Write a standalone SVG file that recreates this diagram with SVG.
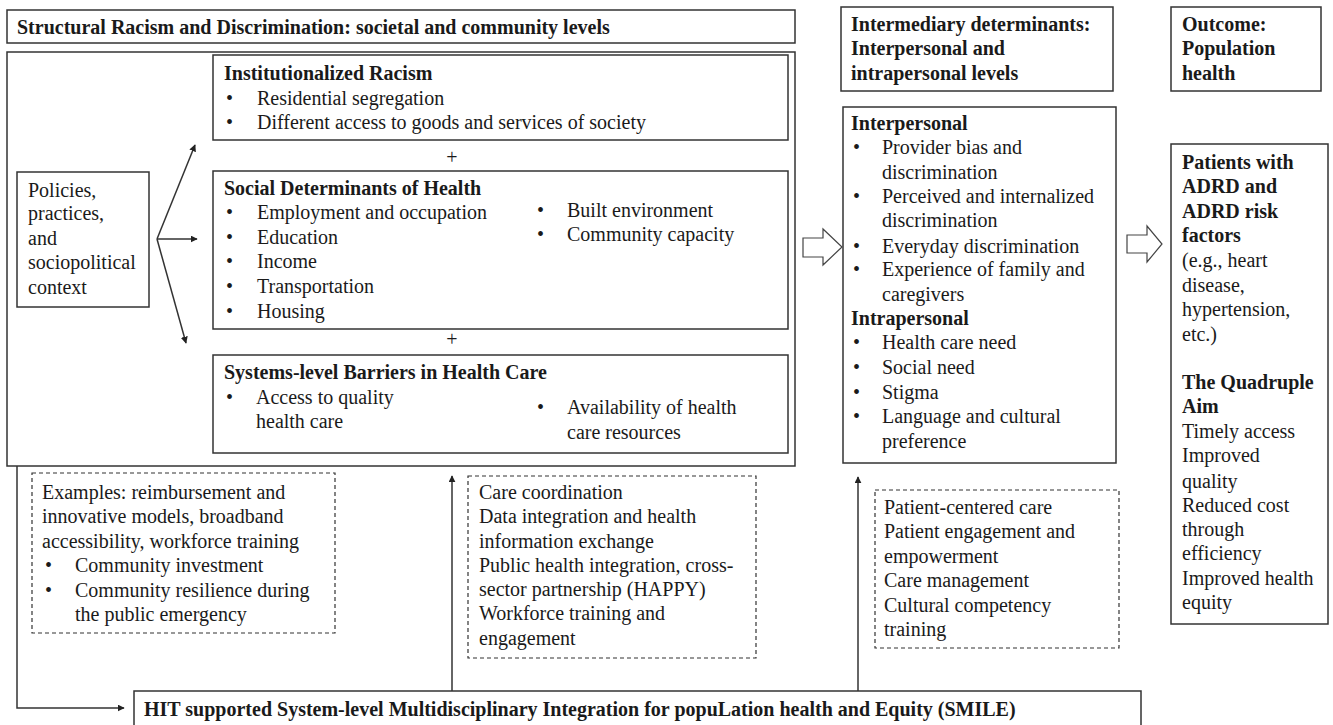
<svg xmlns="http://www.w3.org/2000/svg" width="1333" height="725" viewBox="0 0 1333 725">
<defs>
<style>
text{font-family:"Liberation Serif","Times New Roman",serif;font-size:20px;fill:#1a1a1a}
.b{font-weight:bold}
.box{fill:#fff;stroke:#333;stroke-width:1.5}
.dash{fill:#fff;stroke:#333;stroke-width:1.2;stroke-dasharray:4 3}
.ln{fill:none;stroke:#333;stroke-width:1.5}
.hollow{fill:#fff;stroke:#444;stroke-width:1.2}
</style>
<marker id="ah" viewBox="0 0 10 10" refX="9" refY="5" markerWidth="7" markerHeight="7" markerUnits="userSpaceOnUse" orient="auto">
<path d="M0,0 L10,5 L0,10 z" fill="#222"/>
</marker>
</defs>
<rect width="1333" height="725" fill="#fff"/>

<g id="title">
<rect class="box" x="7" y="10" width="788" height="33"/>
<text class="b" x="17" y="34">Structural Racism and Discrimination: societal and community levels</text>
</g>

<g id="outer">
<rect class="box" x="7" y="52" width="788" height="414"/>
</g>

<g id="institutional">
<rect class="box" x="213" y="55" width="575" height="85"/>
<text class="b" x="224" y="80">Institutionalized Racism</text>
<text x="226" y="105">•</text><text x="257" y="105">Residential segregation</text>
<text x="226" y="129">•</text><text x="257" y="129">Different access to goods and services of society</text>
</g>
<text x="452" y="164" text-anchor="middle">+</text>

<g id="sdh">
<rect class="box" x="213" y="171" width="575" height="158"/>
<text class="b" x="224" y="195">Social Determinants of Health</text>
<text x="226" y="219">•</text><text x="257" y="219">Employment and occupation</text>
<text x="226" y="244">•</text><text x="257" y="244">Education</text>
<text x="226" y="268">•</text><text x="257" y="268">Income</text>
<text x="226" y="293">•</text><text x="257" y="293">Transportation</text>
<text x="226" y="318">•</text><text x="257" y="318">Housing</text>
<text x="537" y="217">•</text><text x="567" y="217">Built environment</text>
<text x="537" y="241">•</text><text x="567" y="241">Community capacity</text>
</g>
<text x="452" y="346" text-anchor="middle">+</text>

<g id="systems">
<rect class="box" x="213" y="355" width="575" height="98"/>
<text class="b" x="224" y="379">Systems-level Barriers in Health Care</text>
<text x="226" y="404">•</text><text x="256" y="404">Access to quality</text>
<text x="256" y="428">health care</text>
<text x="537" y="414">•</text><text x="567" y="414">Availability of health</text>
<text x="567" y="439">care resources</text>
</g>

<g id="policies">
<rect class="box" x="17" y="172" width="132" height="135"/>
<text x="28" y="197">Policies,</text>
<text x="28" y="220">practices,</text>
<text x="28" y="245">and</text>
<text x="28" y="269">sociopolitical</text>
<text x="28" y="294">context</text>
</g>

<g id="examples">
<rect class="dash" x="32" y="473" width="303" height="160"/>
<text x="42" y="499">Examples: reimbursement and</text>
<text x="42" y="523">innovative models, broadband</text>
<text x="42" y="548">accessibility, workforce training</text>
<text x="45" y="572">•</text><text x="75" y="572">Community investment</text>
<text x="45" y="597">•</text><text x="75" y="597">Community resilience during</text>
<text x="75" y="621">the public emergency</text>
</g>

<g id="care">
<rect class="dash" x="468" y="476" width="288" height="182"/>
<text x="479" y="499">Care coordination</text>
<text x="479" y="523">Data integration and health</text>
<text x="479" y="548">information exchange</text>
<text x="479" y="572">Public health integration, cross-</text>
<text x="479" y="596">sector partnership (HAPPY)</text>
<text x="479" y="620">Workforce training and</text>
<text x="479" y="645">engagement</text>
</g>

<g id="patient">
<rect class="dash" x="875" y="490" width="244" height="158"/>
<text x="884" y="514">Patient-centered care</text>
<text x="884" y="538">Patient engagement and</text>
<text x="884" y="563">empowerment</text>
<text x="884" y="587">Care management</text>
<text x="884" y="612">Cultural competency</text>
<text x="884" y="636">training</text>
</g>

<g id="intermediary-header">
<rect class="box" x="841" y="7" width="272" height="84"/>
<text class="b" x="851" y="31">Intermediary determinants:</text>
<text class="b" x="851" y="55">Interpersonal and</text>
<text class="b" x="851" y="80">intrapersonal levels</text>
</g>

<g id="intermediary">
<rect class="box" x="843" y="107" width="273" height="356"/>
<text class="b" x="851" y="130">Interpersonal</text>
<text x="853" y="154">•</text><text x="882" y="154">Provider bias and</text>
<text x="882" y="179">discrimination</text>
<text x="853" y="203">•</text><text x="882" y="203">Perceived and internalized</text>
<text x="882" y="227">discrimination</text>
<text x="853" y="253">•</text><text x="882" y="253">Everyday discrimination</text>
<text x="853" y="276">•</text><text x="882" y="276">Experience of family and</text>
<text x="882" y="301">caregivers</text>
<text class="b" x="851" y="325">Intrapersonal</text>
<text x="853" y="349">•</text><text x="882" y="349">Health care need</text>
<text x="853" y="374">•</text><text x="882" y="374">Social need</text>
<text x="853" y="399">•</text><text x="882" y="399">Stigma</text>
<text x="853" y="423">•</text><text x="882" y="423">Language and cultural</text>
<text x="882" y="448">preference</text>
</g>

<g id="outcome-header">
<rect class="box" x="1171" y="7" width="150" height="84"/>
<text class="b" x="1182" y="31">Outcome:</text>
<text class="b" x="1182" y="55">Population</text>
<text class="b" x="1182" y="80">health</text>
</g>

<g id="outcome">
<rect class="box" x="1171" y="144" width="157" height="480"/>
<text class="b" x="1182" y="169">Patients with</text>
<text class="b" x="1182" y="193">ADRD and</text>
<text class="b" x="1182" y="218">ADRD risk</text>
<text class="b" x="1182" y="242">factors</text>
<text x="1182" y="267">(e.g., heart</text>
<text x="1182" y="292">disease,</text>
<text x="1182" y="316">hypertension,</text>
<text x="1182" y="341">etc.)</text>
<text class="b" x="1182" y="389">The Quadruple</text>
<text class="b" x="1182" y="413">Aim</text>
<text x="1182" y="438">Timely access</text>
<text x="1182" y="462">Improved</text>
<text x="1182" y="488">quality</text>
<text x="1182" y="512">Reduced cost</text>
<text x="1182" y="536">through</text>
<text x="1182" y="560">efficiency</text>
<text x="1182" y="585">Improved health</text>
<text x="1182" y="609">equity</text>
</g>

<g id="smile">
<rect class="box" x="134" y="691" width="1007" height="45"/>
<text class="b" x="144" y="716">HIT supported System-level Multidisciplinary Integration for popuLation health and Equity (SMILE)</text>
</g>

<g id="connectors">
<line class="ln" x1="157" y1="239" x2="195" y2="145" marker-end="url(#ah)"/>
<line class="ln" x1="157" y1="239" x2="197" y2="239" marker-end="url(#ah)"/>
<line class="ln" x1="157" y1="239" x2="186" y2="343" marker-end="url(#ah)"/>
<polyline class="ln" points="17,466 17,708 124,708" marker-end="url(#ah)"/>
<line class="ln" x1="452" y1="691" x2="452" y2="476" marker-end="url(#ah)"/>
<line class="ln" x1="858" y1="691" x2="858" y2="477" marker-end="url(#ah)"/>
<polygon class="hollow" points="803,238 823,238 823,229 842,247 823,265 823,257 803,257"/>
<polygon class="hollow" points="1127,235 1147,235 1147,226 1162,244 1147,262 1147,253 1127,253"/>
</g>
</svg>
